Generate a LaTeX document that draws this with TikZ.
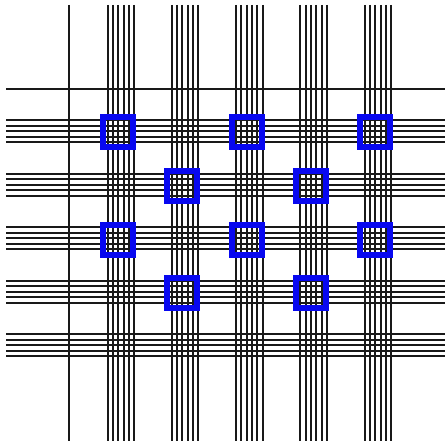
\documentclass[tikz,border=0pt]{standalone}
\usepackage{xcolor}
\usetikzlibrary{positioning}

\definecolor{markblue}{RGB}{8,8,240}

\begin{document}
\begin{tikzpicture}[
  x=1pt, y=-1pt,
  rule/.style={draw=black!90, line width=2pt},
  hilite/.style={draw=markblue, line width=6pt},
]
  \useasboundingbox (0,0) rectangle (445,446);
  % single lines
  \draw[rule] (69,5) -- (69,441);
  \draw[rule] (6,89) -- (445,89);
  % vertical bundles
  \foreach \i in {0,...,4}
    \foreach \k in {0,...,5}
      \draw[rule] ({107.6+64.25*\i+5.3*\k},5) -- ({107.6+64.25*\i+5.3*\k},441);
  % horizontal bundles
  \foreach \j in {0,...,4}
    \foreach \k in {0,...,4}
      \draw[rule] (6,{120.3+53.5*\j+5.5*\k}) -- (445,{120.3+53.5*\j+5.5*\k});
  % highlighted crossings
  \foreach \i/\j in {0/0,2/0,4/0,1/1,3/1,0/2,2/2,4/2,1/3,3/3}
    \draw[hilite] ({118+64.25*\i-15},{132.5+53.5*\j-15}) rectangle
                  ({118+64.25*\i+15},{132.5+53.5*\j+15});
\end{tikzpicture}
\end{document}
